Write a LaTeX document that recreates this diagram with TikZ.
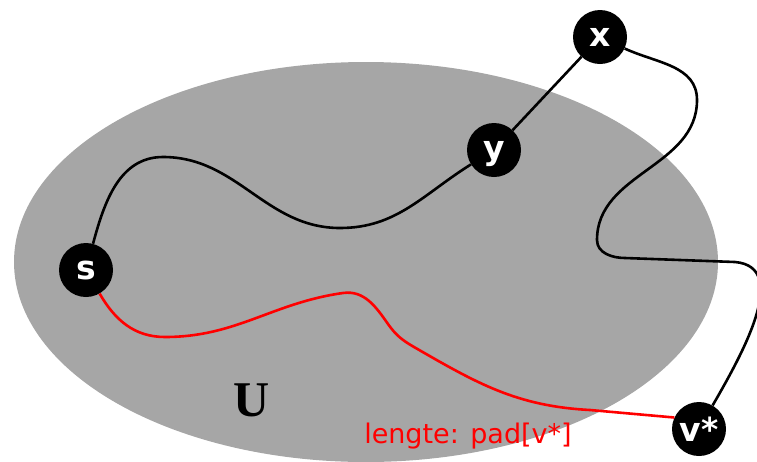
\documentclass[tikz,border=0pt]{standalone}
\usepackage{fontspec}
\setsansfont{DejaVu Sans}
\setmainfont{Liberation Serif}
\definecolor{setgray}{RGB}{166,166,166}
\begin{document}
\begin{tikzpicture}[x=1pt, y=-1pt,
    vertex/.style={circle, fill=black, minimum size=54pt, inner sep=0pt, text depth=0pt, text=white, font=\sffamily\bfseries\fontsize{33}{33}\selectfont},
    wire/.style={line width=2.6pt},
    redwire/.style={line width=2.6pt, red},
    setlabel/.style={font=\bfseries\fontsize{50}{50}\selectfont},
    pathlabel/.style={text=red, font=\sffamily\fontsize{27}{27}\selectfont}
]
    \clip (0,0) rectangle (757,461);

    % The set U
    \fill[setgray] (366,262) ellipse [x radius=352pt, y radius=200pt];
    \node[setlabel] (U) at (252,400) {U};

    % Vertices
    \node[vertex] (x) at (600,37) {x};
    \node[vertex] (y) at (494,150) {y};
    \node[vertex] (s) at (86,270) {s};
    \node[vertex] (v) at (699,429) {v*};

    % Path s -> y -> x -> v*
    \coordinate (a1) at (163,157);
    \coordinate (a2) at (340,228);
    \draw[wire] (s) to[out=75,in=180] (a1) to[out=0,in=180] (a2) to[out=0,in=212] (y);
    \draw[wire] (y) -- (x);

    \coordinate (b1) at (697,100);
    \coordinate (b2) at (597,240);
    \coordinate (b3) at (625,258);
    \coordinate (b4) at (735,262);
    \draw[wire] (x) to[out=-25,in=90] (b1) to[out=-90,in=90] (b2)
        to[out=-90,in=180] (b3) -- (b4) to[out=-5,in=60] (v);

    % Shortest path s -> v*
    \coordinate (c1) at (165,337);
    \coordinate (c2) at (343,293);
    \coordinate (c3) at (388,324);
    \coordinate (c4) at (414,347);
    \coordinate (c5) at (590,410);
    \draw[redwire] (s) to[out=-60,in=180] (c1) to[out=0,in=188] (c2)
        to[out=8,in=125] (c3) to[out=-55,in=150] (c4)
        to[out=-30,in=177] (c5) -- (v.155);
    \node[pathlabel] (len) at (468,436) {lengte: pad[v*]};
\end{tikzpicture}
\end{document}
